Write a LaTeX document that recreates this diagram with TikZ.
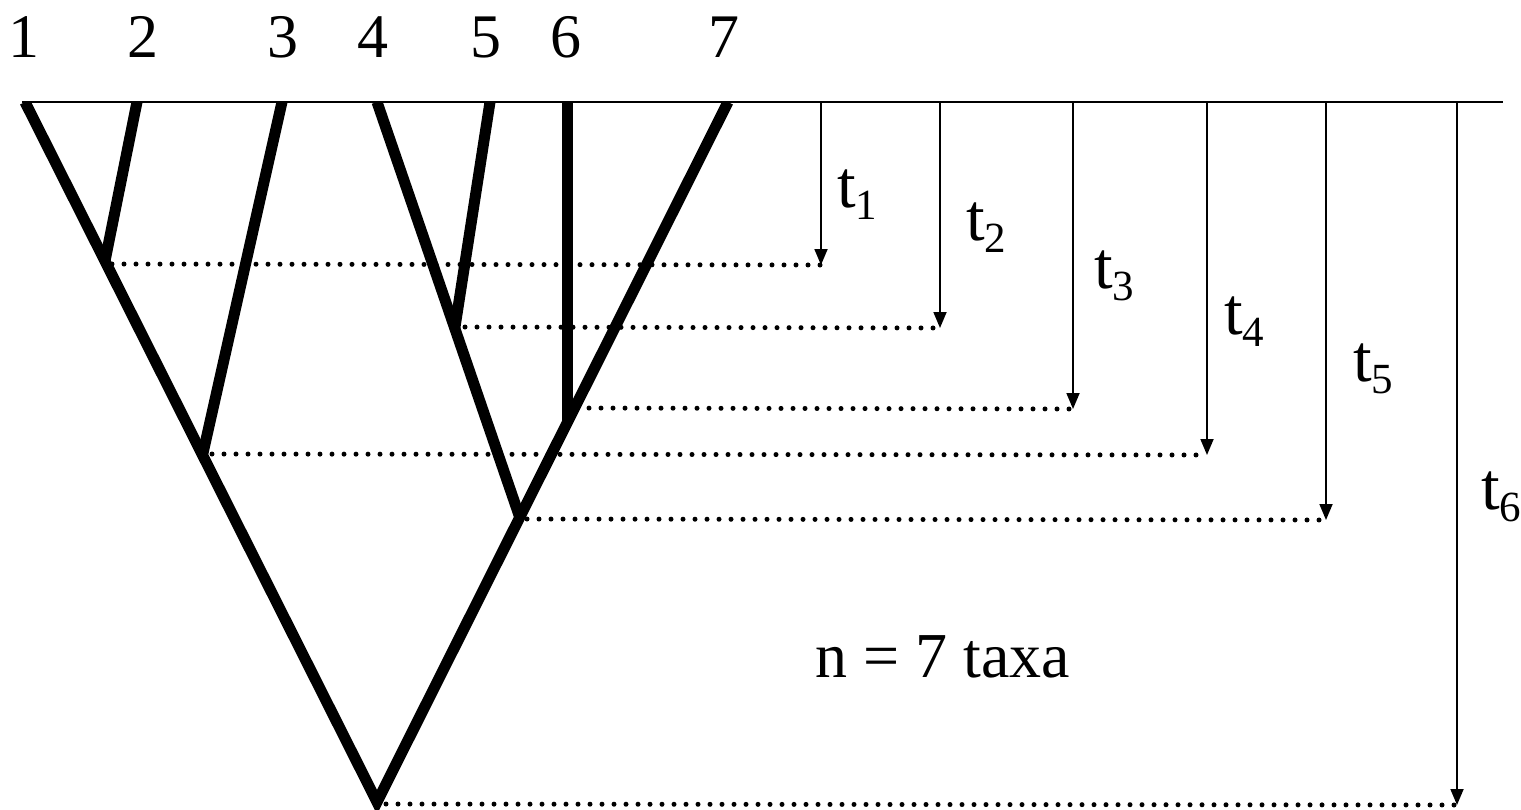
\documentclass[tikz,border=0pt]{standalone}
\usepackage{fontspec}
\setmainfont{Liberation Serif}
\usetikzlibrary{arrows.meta}
\begin{document}
\begin{tikzpicture}[x=1pt,y=-1pt,
  branch/.style={line width=11pt,line join=miter,miter limit=20},
  baseline/.style={line width=2.3pt},
  dotrow/.style={line width=5pt,dash pattern=on 0pt off 12pt,line cap=round},
  tarrow/.style={line width=1.8pt,-{Triangle[length=16pt,width=13pt]}},
  taxon/.style={anchor=base,font=\fontsize{62}{70}\selectfont},
  tlabel/.style={anchor=base west,inner sep=0pt,font=\fontsize{67}{70}\selectfont},
  nlabel/.style={anchor=base,font=\fontsize{64}{70}\selectfont}]
\useasboundingbox (0,0) rectangle (1521,809);
% tips
\coordinate (L1) at (25,102);
\coordinate (L2) at (137,102);
\coordinate (L3) at (282,102);
\coordinate (L4) at (377,102);
\coordinate (L5) at (490,102);
\coordinate (L6) at (567,102);
\coordinate (L7) at (728,102);
% internal nodes
\coordinate (n12) at (105,261);
\coordinate (n45) at (455,327);
\coordinate (n67) at (567,421);
\coordinate (n123) at (203,453);
\coordinate (n4567) at (520,518);
\coordinate (root) at (377,802);
% taxon labels
\node[taxon] (x1) at (24,57) {1};
\node[taxon] (x2) at (143,57) {2};
\node[taxon] (x3) at (283,57) {3};
\node[taxon] (x4) at (373,57) {4};
\node[taxon] (x5) at (486,57) {5};
\node[taxon] (x6) at (566,57) {6};
\node[taxon] (x7) at (724,57) {7};
% top line
\coordinate (topL) at (22,102);
\coordinate (topR) at (1503,102);
\draw[baseline] (topL) -- (topR);
% tree
\begin{scope}
\clip (0,101) rectangle (1521,820);
\draw[branch] (L1) -- (root) -- (L7);
\draw[branch] (L2) -- (n12);
\draw[branch] (L3) -- (n123);
\draw[branch] (L4) -- (n4567);
\draw[branch] (L5) -- (n45);
\draw[branch] (L6) -- (n67);
\end{scope}
% arrow tops and ends
\coordinate (a1) at (821,102); \coordinate (e1) at (821,265);
\coordinate (a2) at (940,102); \coordinate (e2) at (940,328);
\coordinate (a3) at (1073,102); \coordinate (e3) at (1073,409);
\coordinate (a4) at (1207,102); \coordinate (e4) at (1207,455);
\coordinate (a5) at (1326,102); \coordinate (e5) at (1326,520);
\coordinate (a6) at (1457,102); \coordinate (e6) at (1457,805);
% dotted rows
\coordinate (s1) at (112,264);
\coordinate (s2) at (465,327);
\coordinate (s3) at (577,408);
\coordinate (s4) at (212,454);
\coordinate (s5) at (527,519);
\coordinate (s6) at (386,804);
\draw[dotrow] (s1) -- (e1);
\draw[dotrow] (s2) -- (e2);
\draw[dotrow] (s3) -- (e3);
\draw[dotrow] (s4) -- (e4);
\draw[dotrow] (s5) -- (e5);
\draw[dotrow] (s6) -- (e6);
% arrows
\draw[tarrow] (a1) -- (e1);
\draw[tarrow] (a2) -- (e2);
\draw[tarrow] (a3) -- (e3);
\draw[tarrow] (a4) -- (e4);
\draw[tarrow] (a5) -- (e5);
\draw[tarrow] (a6) -- (e6);
% t labels
\newcommand{\tsub}[1]{t\raisebox{-12pt}{\fontsize{43}{43}\selectfont #1}}
\node[tlabel] (t1) at (837,207) {\tsub{1}};
\node[tlabel] (t2) at (966,240) {\tsub{2}};
\node[tlabel] (t3) at (1094,288) {\tsub{3}};
\node[tlabel] (t4) at (1224,334) {\tsub{4}};
\node[tlabel] (t5) at (1353,381) {\tsub{5}};
\node[tlabel] (t6) at (1481,509) {\tsub{6}};
% n label
\node[nlabel] (ntaxa) at (943,677) {n = 7 taxa};
\end{tikzpicture}
\end{document}
